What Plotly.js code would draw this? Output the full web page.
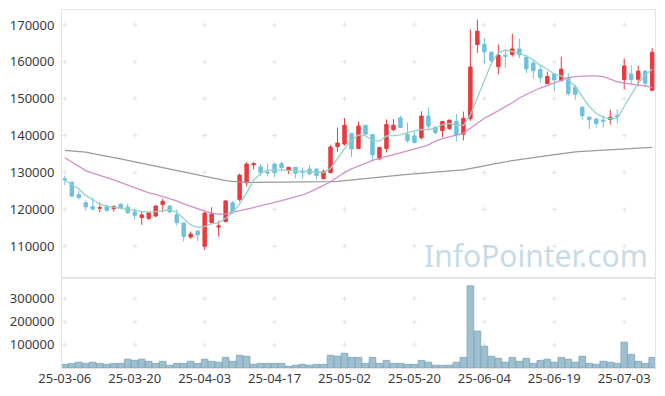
<!DOCTYPE html>
<html>
<head>
<meta charset="utf-8">
<script src="https://cdn.plot.ly/plotly-3.0.1.min.js"></script>
<style>html,body{margin:0;padding:0;background:#fff;}#chart{width:665px;height:396px;}</style>
</head>
<body>
<div id="chart"></div>
<script>
const dates = [
"2025-03-06","2025-03-07","2025-03-10","2025-03-11","2025-03-12","2025-03-13","2025-03-14","2025-03-17","2025-03-18","2025-03-19",
"2025-03-20","2025-03-21","2025-03-24","2025-03-25","2025-03-26","2025-03-27","2025-03-28","2025-03-31","2025-04-01","2025-04-02",
"2025-04-03","2025-04-04","2025-04-07","2025-04-08","2025-04-09","2025-04-10","2025-04-11","2025-04-14","2025-04-15","2025-04-16",
"2025-04-17","2025-04-18","2025-04-21","2025-04-22","2025-04-23","2025-04-24","2025-04-25","2025-04-28","2025-04-29","2025-04-30",
"2025-05-02","2025-05-07","2025-05-08","2025-05-09","2025-05-12","2025-05-13","2025-05-14","2025-05-15","2025-05-16","2025-05-19",
"2025-05-20","2025-05-21","2025-05-22","2025-05-23","2025-05-26","2025-05-27","2025-05-28","2025-05-29","2025-05-30","2025-06-02",
"2025-06-04","2025-06-05","2025-06-09","2025-06-10","2025-06-11","2025-06-12","2025-06-13","2025-06-16","2025-06-17","2025-06-18",
"2025-06-19","2025-06-20","2025-06-23","2025-06-24","2025-06-25","2025-06-26","2025-06-27","2025-06-30","2025-07-01","2025-07-02",
"2025-07-03","2025-07-04","2025-07-07","2025-07-08","2025-07-09"];

const open = [128300,127400,124000,121800,120700,120300,120800,120200,121400,120600,
119300,117800,117500,118200,121300,120900,118500,116300,112500,114100,
110000,116400,115200,116700,121800,122700,127200,132100,131500,130100,
132300,132400,130500,131400,130200,130900,130900,128300,130000,137000,
137700,140600,136500,142800,140300,133700,136500,141600,144800,140300,
139900,139400,145300,142200,141400,141900,143900,140400,144600,164700,
164700,162600,158700,161800,162000,163500,161200,159700,157900,154100,
156700,154900,155600,153100,147700,145000,144500,144200,144400,145500,
155200,156700,155300,157500,152300];
const high = [129100,127500,125100,122400,123300,121900,121300,121100,121700,121500,
120100,119300,119400,121100,122900,121100,120000,116400,114000,114400,
119300,120600,116900,122500,122300,129700,132800,132800,132300,132500,
132700,132900,131500,131500,131400,132000,131200,130800,137400,142200,
144800,140700,143800,142900,140400,137000,144400,144500,145400,143500,
141200,146600,147700,142700,144000,144300,145800,146500,168800,171500,
166500,162900,164700,163000,167600,166300,161900,160700,159000,157400,
157000,161400,156900,153800,148000,145300,144800,145500,147000,147100,
160900,159100,159000,157600,163700];
const low = [126600,123400,122700,119600,119600,119200,119400,119400,120000,118800,
117200,115800,117200,117900,119200,119100,115600,111300,112000,111400,
109000,116300,112600,116500,118800,122100,126200,130900,128900,128900,
128700,130300,129600,128400,128400,129200,128100,128300,129800,135600,
137300,134200,136400,140100,133000,133300,135400,141200,142100,138100,
137900,139000,141700,140300,139500,141500,138400,138700,144000,162400,
159500,159100,156600,158400,161400,161000,156900,155500,154300,154000,
152000,154700,150800,149700,144300,141800,142200,142200,143000,143300,
152500,153700,153300,153100,152200];
const close = [128000,123600,123200,120700,120100,120500,119700,120800,120400,119100,
118400,118500,119200,120900,122200,119300,116400,112700,113300,113100,
119000,118800,115500,122300,119400,129300,132300,132400,130000,129900,
130000,131300,131400,129800,130000,129700,129200,130300,136900,138000,
142800,136400,142600,140400,134800,136800,143000,142800,142200,138600,
138100,145300,142600,140800,143800,144200,140200,144700,158600,168300,
162700,160300,161800,161500,163500,161900,158100,157600,155700,156000,
155100,158000,151400,151200,145400,144300,143300,143900,145000,145100,
158900,155200,157500,154200,162600];
const volume = [16000,20000,25000,20000,25000,20000,16000,20000,20000,38000,
33000,38000,29000,20000,29000,12000,20000,20000,29000,20000,
38000,29000,25000,46000,29000,55000,51000,16000,20000,20000,
20000,20000,7000,12000,16000,12000,16000,16000,55000,51000,
64000,46000,46000,20000,46000,20000,33000,20000,20000,16000,
16000,33000,25000,12000,12000,12000,25000,46000,356000,160000,
94000,51000,42000,25000,46000,29000,42000,20000,33000,38000,
25000,46000,38000,25000,51000,20000,16000,29000,25000,20000,
112000,59000,29000,20000,46000];
const ma5 = [127900,126800,125600,123800,122500,121400,120900,120500,120300,120000,
119700,119300,119200,119400,119700,119900,119200,117600,115800,115100,
115300,116100,116400,117600,119100,121500,124400,127900,129800,130600,
130700,130700,130600,130500,130500,130400,130200,130000,131100,133900,
136500,138800,140200,139900,138800,138500,139900,140000,140200,140800,
141300,141700,141600,142000,143000,143300,142800,142800,145600,150100,
155100,159600,162500,163200,162800,162300,161600,160500,159100,158000,
156700,156200,155100,153300,150500,147900,146000,145000,144600,144700,
147900,151000,154200,156400,158000];
const ma20 = [134000,132800,131500,130500,129800,129300,128600,128000,127300,126500,
125800,125200,124500,124100,123500,123100,122300,121500,120800,120000,
119500,119000,118700,118800,119300,119700,120100,120500,120900,121400,
121900,122400,122900,123400,123900,124700,125500,126500,127500,128800,
130000,131000,131800,132600,133300,133800,134300,134800,135200,135800,
136200,136900,137500,138500,139200,139700,140200,140600,142000,143400,
144700,145700,146700,147800,148900,150200,151200,152100,152900,153700,
154300,155000,155700,156000,156200,156200,156200,156000,155300,154600,
154200,154000,153800,153500,153100];
const ma60 = [136000,135900,135700,135500,135100,134800,134500,134100,133700,133300,
132900,132600,132300,131900,131500,131100,130700,130300,129900,129500,
129000,128600,128100,127800,127600,127400,127300,127300,127300,127300,
127300,127300,127300,127300,127300,127400,127400,127500,127500,127600,
127800,127900,128100,128300,128500,128700,128900,129100,129300,129500,
129600,129800,129900,130000,130200,130400,130600,130700,131000,131400,
131800,132200,132600,132900,133200,133500,133700,134000,134300,134600,
134900,135200,135500,135600,135700,135800,135800,135900,136000,136100,
136200,136300,136500,136600,136800];

const xTickDates = ["2025-03-06","2025-03-20","2025-04-03","2025-04-17","2025-05-02","2025-05-20","2025-06-04","2025-06-19","2025-07-03"];
const xTickLabels = ["25-03-06","25-03-20","25-04-03","25-04-17","25-05-02","25-05-20","25-06-04","25-06-19","25-07-03"];
const priceTicks = [110000,120000,130000,140000,150000,160000,170000];
const volumeTicks = [100000,200000,300000];

const RED = '#ea3a3e', BLUE = '#6ec2d9';
const fontFam = '"Noto Sans", "Open Sans", sans-serif';

// small grid crosses drawn beneath the data, at each tick intersection
const shapes = [];
function addCross(xr, yr, d, v) {
  shapes.push({type:'path', layer:'below', xref:xr, yref:yr,
    xsizemode:'pixel', ysizemode:'pixel', xanchor:d, yanchor:v,
    path:'M-2.5,0H2.5M0,-2.5V2.5', line:{color:'#e3e3e3', width:1}});
}
xTickDates.forEach(d => {
  priceTicks.forEach(v => addCross('x', 'y', d, v));
  volumeTicks.forEach(v => addCross('x2', 'y2', d, v));
});

const traces = [
  {type:'bar', x:dates, y:volume, xaxis:'x2', yaxis:'y2',
   marker:{color:'rgba(140,180,200,0.85)', line:{color:'#7ba3b9', width:0.8}}},
  {type:'scatter', mode:'lines', x:dates, y:ma60, xaxis:'x', yaxis:'y', line:{color:'#9a9a9a', width:1.3}},
  {type:'scatter', mode:'lines', x:dates, y:ma20, xaxis:'x', yaxis:'y', line:{color:'#cf90cc', width:1.3}},
  {type:'scatter', mode:'lines', x:dates, y:ma5, xaxis:'x', yaxis:'y', line:{color:'#94d2c8', width:1.3}},
  {type:'candlestick', x:dates, open:open, high:high, low:low, close:close, xaxis:'x', yaxis:'y',
   whiskerwidth:0,
   increasing:{line:{color:RED, width:1}, fillcolor:RED},
   decreasing:{line:{color:BLUE, width:1}, fillcolor:BLUE}}
];

const layout = {
  width:665, height:396,
  margin:{l:62, r:10, t:10, b:28},
  paper_bgcolor:'#fff', plot_bgcolor:'#fff',
  showlegend:false,
  bargap:0.05,
  font:{family:fontFam, size:13, color:'#3a3a3a'},
  xaxis:{type:'category', categoryorder:'array', categoryarray:dates, domain:[0,1], anchor:'y', range:[-0.4,84.4],
    showticklabels:false, ticks:'', showgrid:false, zeroline:false,
    showline:true, mirror:true, linecolor:'#e4e4e4', linewidth:1,
    rangeslider:{visible:false}, tickvals:xTickDates},
  yaxis:{domain:[0.2514,1], anchor:'x', range:[101400,174050],
    tickvals:priceTicks, ticktext:priceTicks.map(String), ticks:'', showgrid:false, zeroline:false,
    showline:true, mirror:true, linecolor:'#e4e4e4', linewidth:1, ticklabelstandoff:4},
  xaxis2:{type:'category', categoryorder:'array', categoryarray:dates, domain:[0,1], anchor:'y2', range:[-0.4,84.4],
    tickvals:xTickDates, ticktext:xTickLabels, ticks:'', showgrid:false, zeroline:false,
    showline:true, mirror:true, linecolor:'#e4e4e4', linewidth:1, tickangle:0, ticklabelstandoff:-2},
  yaxis2:{domain:[0,0.2514], anchor:'x2', range:[0,390000],
    tickvals:volumeTicks, ticktext:volumeTicks.map(String), ticks:'', showgrid:false, zeroline:false,
    showline:true, mirror:true, linecolor:'#e4e4e4', linewidth:1, ticklabelstandoff:4},
  shapes: shapes,
  annotations:[{text:'InfoPointer.com', xref:'paper', yref:'paper', x:0.8, y:0.315,
    showarrow:false, xanchor:'center', yanchor:'middle',
    font:{family:fontFam, size:30, color:'rgba(150,186,210,0.55)'}}]
};

Plotly.newPlot('chart', traces, layout, {staticPlot:true, displayModeBar:false});
</script>
</body>
</html>
